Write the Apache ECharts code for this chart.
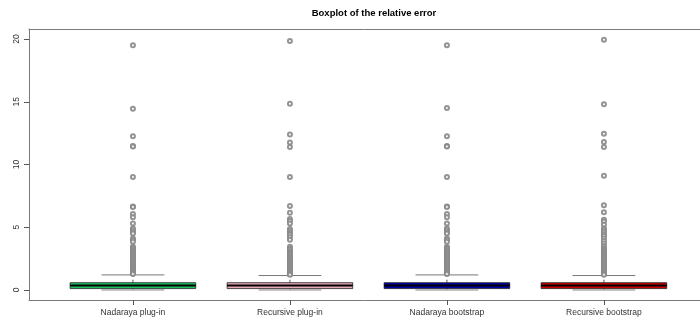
<!DOCTYPE html>
<html>
<head>
<meta charset="utf-8">
<script src="https://cdn.jsdelivr.net/npm/echarts@6/dist/echarts.min.js"></script>
<style>html,body{margin:0;padding:0;background:#fff}#c{width:700px;height:322px}</style>
</head>
<body>
<div id="c"></div>
<script>
const categories = ['Nadaraya plug-in', 'Recursive plug-in', 'Nadaraya bootstrap', 'Recursive bootstrap'];
const lowerWhisker = [0.0, 0.0, 0.0, 0.0];
const q1 = [0.11, 0.11, 0.11, 0.11];
const median = [0.35, 0.35, 0.35, 0.35];
const q3 = [0.58, 0.58, 0.58, 0.58];
const upperWhisker = [1.2, 1.15, 1.2, 1.15];
const boxColors = ['#1fc060', '#e8aab8', '#0000aa', '#c80000'];
const yTicks = [0, 5, 10, 15, 20];

const outNadarayaPlugin = [19.5, 14.45, 12.25, 11.47, 11.43, 9.0, 6.66, 6.62, 6.05, 5.8, 5.3, 4.9, 4.75, 4.6, 4.5, 4.1, 4.0, 3.85, 3.45, 3.35, 3.25, 3.15, 3.05, 2.95, 2.85, 2.75, 2.65, 2.55, 2.45, 2.35, 2.25, 2.15, 2.05, 1.95, 1.85, 1.75, 1.65, 1.55, 1.45, 1.35, 1.28];
const outRecursivePlugin = [19.85, 14.85, 12.4, 11.75, 11.4, 9.0, 6.7, 6.15, 5.65, 5.5, 5.3, 4.85, 4.7, 4.55, 4.4, 4.2, 4.0, 3.45, 3.3, 3.2, 3.05, 2.95, 2.85, 2.7, 2.6, 2.5, 2.4, 2.3, 2.2, 2.1, 2.0, 1.9, 1.8, 1.7, 1.6, 1.5, 1.4, 1.3, 1.22];
const outNadarayaBootstrap = [19.5, 14.5, 12.25, 11.47, 11.43, 9.0, 6.66, 6.62, 6.05, 5.8, 5.3, 4.9, 4.75, 4.6, 4.5, 4.1, 4.0, 3.85, 3.45, 3.35, 3.25, 3.15, 3.05, 2.95, 2.85, 2.75, 2.65, 2.55, 2.45, 2.35, 2.25, 2.15, 2.05, 1.95, 1.85, 1.75, 1.65, 1.55, 1.45, 1.35, 1.28];
const outRecursiveBootstrap = [19.95, 14.8, 12.45, 11.8, 11.4, 9.1, 6.75, 6.2, 5.6, 5.45, 5.2, 4.9, 4.75, 4.6, 4.45, 4.3, 4.1, 3.9, 3.7, 3.5, 3.35, 3.2, 3.1, 3.0, 2.9, 2.8, 2.7, 2.6, 2.5, 2.4, 2.3, 2.2, 2.1, 2.0, 1.9, 1.8, 1.7, 1.6, 1.5, 1.4, 1.3, 1.22];
const outliers = [outNadarayaPlugin, outRecursivePlugin, outNadarayaBootstrap, outRecursiveBootstrap];

const FONT = "'Liberation Sans',Arial,sans-serif";

const boxData = categories.map((c, i) => [i + 1, lowerWhisker[i], q1[i], median[i], q3[i], upperWhisker[i], i]);
const outData = [];
outliers.forEach((arr, i) => arr.forEach(v => outData.push([i + 1, v])));

const chart = echarts.init(document.getElementById('c'), null, {renderer: 'canvas'});
chart.setOption({
  animation: false,
  backgroundColor: '#fff',
  title: {
    text: 'Boxplot of the relative error',
    left: 369, top: 3, textAlign: 'center',
    textStyle: {fontFamily: FONT, fontSize: 9.5, fontWeight: 'bold', color: '#000'}
  },
  grid: {left: 29, right: 0, top: 29, bottom: 22, containLabel: false},
  xAxis: [{
    type: 'value', min: 0.338, max: 4.612, position: 'bottom',
    splitLine: {show: false},
    axisLine: {show: true, onZero: false, lineStyle: {color: '#7a7a7a', width: 1}},
    axisTick: {show: true, customValues: [1, 2, 3, 4], length: 5, lineStyle: {color: '#555'}},
    axisLabel: {customValues: [1, 2, 3, 4], formatter: v => categories[Math.round(v) - 1] || '',
      fontFamily: FONT, fontSize: 8.5, color: '#333', margin: 8}
  }, {
    type: 'value', min: 0.338, max: 4.612, position: 'top',
    splitLine: {show: false},
    axisLine: {show: true, onZero: false, lineStyle: {color: '#7a7a7a', width: 1}},
    axisTick: {show: false}, axisLabel: {show: false}
  }],
  yAxis: {
    type: 'value', min: -0.8, max: 20.8,
    splitLine: {show: false},
    axisLine: {show: true, onZero: false, lineStyle: {color: '#7a7a7a', width: 1}},
    axisTick: {show: true, customValues: yTicks, length: 5, lineStyle: {color: '#555'}},
    axisLabel: {customValues: yTicks, rotate: 90, fontFamily: FONT, fontSize: 8.5, color: '#333', margin: 8}
  },
  series: [{
    type: 'custom',
    xAxisIndex: 0,
    data: boxData,
    renderItem: function (params, api) {
      const x = api.value(0);
      const i = api.value(6);
      const pLo = api.coord([x, api.value(1)]);
      const pQ1 = api.coord([x, api.value(2)]);
      const pMed = api.coord([x, api.value(3)]);
      const pQ3 = api.coord([x, api.value(4)]);
      const pUp = api.coord([x, api.value(5)]);
      const bw = api.size([0.8, 0])[0];
      const cw = bw / 2;
      const cx = pMed[0];
      return {
        type: 'group',
        children: [
          {type: 'line', shape: {x1: cx, y1: pQ3[1], x2: cx, y2: pUp[1]}, style: {stroke: '#555', lineWidth: 1, lineDash: [3, 3]}},
          {type: 'line', shape: {x1: cx, y1: pQ1[1], x2: cx, y2: pLo[1]}, style: {stroke: '#555', lineWidth: 1, lineDash: [3, 3]}},
          {type: 'line', shape: {x1: cx - cw / 2, y1: pUp[1], x2: cx + cw / 2, y2: pUp[1]}, style: {stroke: '#777', lineWidth: 1}},
          {type: 'line', shape: {x1: cx - cw / 2, y1: pLo[1], x2: cx + cw / 2, y2: pLo[1]}, style: {stroke: '#b0b0b0', lineWidth: 1.5}},
          {type: 'rect', shape: {x: cx - bw / 2, y: pQ3[1], width: bw, height: pQ1[1] - pQ3[1]}, style: {fill: boxColors[i], stroke: '#222', lineWidth: 0.8}},
          {type: 'line', shape: {x1: cx - bw / 2, y1: pMed[1], x2: cx + bw / 2, y2: pMed[1]}, style: {stroke: '#000', lineWidth: 2}}
        ]
      };
    }
  }, {
    type: 'scatter',
    xAxisIndex: 0,
    data: outData,
    symbol: 'emptyCircle',
    symbolSize: 4,
    itemStyle: {color: '#888', borderColor: '#808080', borderWidth: 0.7, opacity: 0.9}
  }]
});
</script>
</body>
</html>
